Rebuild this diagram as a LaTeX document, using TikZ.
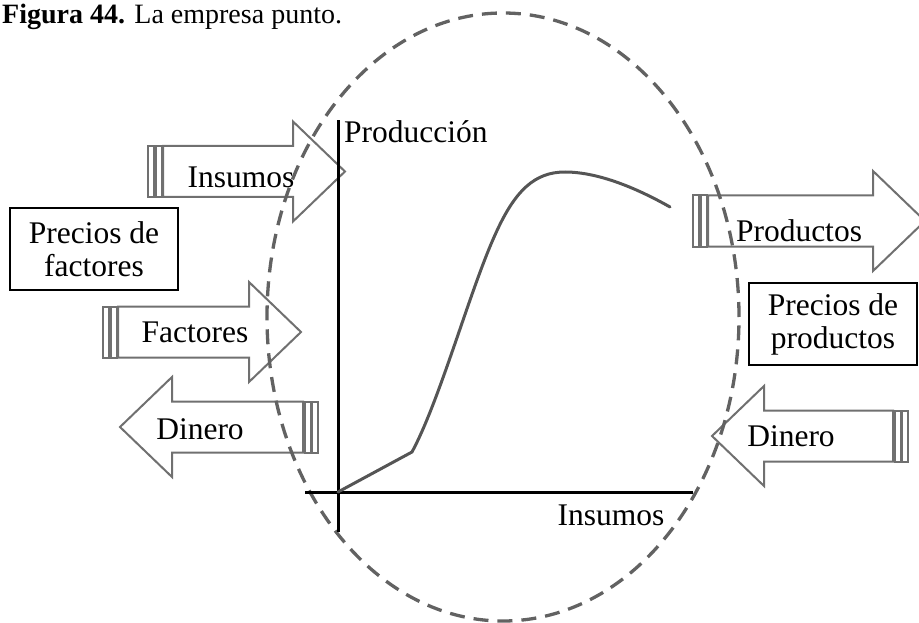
\documentclass[tikz,border=0pt]{standalone}
\usepackage{fontspec}
\setmainfont{Liberation Serif}
\definecolor{arrowgray}{HTML}{707070}
\definecolor{dashgray}{HTML}{626262}
\definecolor{curvegray}{HTML}{555555}
\tikzset{
  bigtext/.style={font=\fontsize{31.5}{33}\selectfont},
  lbl/.style={bigtext, inner sep=0pt, anchor=base},
  arrowline/.style={draw=arrowgray, line width=2pt, fill=white, line join=miter},
  % block arrow with two stripes at its tail; the argument is its total length
  pics/striparrow/.style={code={
    \draw[arrowline] (0,-25.5) rectangle (6,25.5);
    \draw[arrowline] (7.5,-25.5) rectangle (13.5,25.5);
    \draw[arrowline] (15,-25.5) -- ({#1-52},-25.5) -- ({#1-52},-50) -- (#1,0)
      -- ({#1-52},50) -- ({#1-52},25.5) -- (15,25.5) -- cycle;
  }},
  pricebox/.style={bigtext, draw=black, line width=1.1pt, align=center,
    minimum width=168pt, minimum height=82pt, inner sep=0pt},
  firm/.style={draw=dashgray, line width=3.3pt, dash pattern=on 15pt off 9pt},
  axis/.style={draw=black, line width=3pt},
  curve/.style={draw=curvegray, line width=3pt, line join=round, line cap=round},
}
\begin{document}
\begin{tikzpicture}[x=1pt, y=-1pt]
\useasboundingbox (0,0) rectangle (919,623);

% caption
\node[lbl, anchor=base west, font=\fontsize{28}{33}\selectfont] (title) at (2,24)
  {\textbf{Figura 44.} La empresa punto.};

% flows in and out of the firm
\pic (ins) at (148,171.5) {striparrow=197};
\pic (fac) at (103,332) {striparrow=198};
\pic[xscale=-1] (dil) at (318,427) {striparrow=198};
\pic (pro) at (693,221) {striparrow=232};
\pic[xscale=-1] (dir) at (908,436) {striparrow=196};

% price boxes
\node[pricebox] (pf) at (94,249) {Precios de\\factores};
\node[pricebox] (pp) at (833,324) {Precios de\\productos};

% boundary of the firm
\node[draw=none, inner sep=0pt] (firmc) at (503,317) {};
\draw[firm] (firmc.center) ellipse [x radius=236pt, y radius=304pt];

% production function axes
\coordinate (o) at (338,492);
\coordinate (ytop) at (338,120);
\coordinate (ybot) at (338,532);
\coordinate (xl) at (305,492);
\coordinate (xr) at (693,492);
\draw[axis] (ybot) -- (ytop);
\draw[axis] (xl) -- (xr);

% production curve
\coordinate (k) at (412,452);
\coordinate (pk) at (565,172);
\coordinate (cend) at (670,207);
\draw[curve] (o) -- (k) .. controls (440,400) and (470,290) .. (495,235)
  .. controls (515,190) and (535,172) .. (pk)
  .. controls (600,172) and (640,190) .. (cend);

% labels
\node[lbl, anchor=base west] (ylab) at (344,143) {Producción};
\node[lbl] (xlab) at (611,525) {Insumos};
\node[lbl] (tins) at (241,188) {Insumos};
\node[lbl] (tfac) at (195,342) {Factores};
\node[lbl] (tdil) at (200,439) {Dinero};
\node[lbl] (tpro) at (799,241) {Productos};
\node[lbl] (tdir) at (791,446) {Dinero};
\end{tikzpicture}
\end{document}
